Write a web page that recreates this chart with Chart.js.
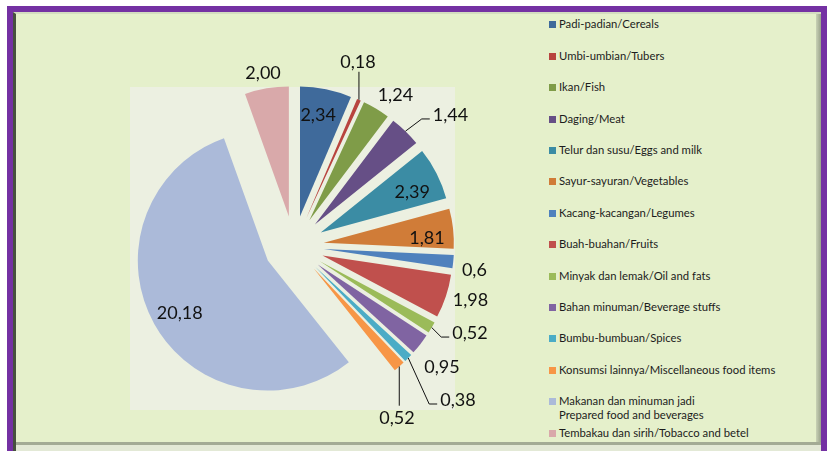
<!DOCTYPE html>
<html>
<head>
<meta charset="utf-8">
<title>Pengeluaran makanan</title>
<script src="https://cdn.jsdelivr.net/npm/chart.js@4.4.0/dist/chart.umd.min.js"></script>
<style>
    html, body {
        margin: 0;
        padding: 0;
        width: 827px;
        height: 451px;
        overflow: hidden;
        background: #ffffff;
        font-family: Lato, "Open Sans", sans-serif;
    }
    #frame {
        position: absolute;
        left: 7px;
        top: 6px;
        width: 820px;
        height: 460px;
        background: #7431a3;
    }
    #panel {
        position: absolute;
        left: 13px;
        top: 12px;
        width: 808px;
        height: 440px;
        background: #e5f0cb;
        border-top: 2px solid #d3dcc0;
        border-left: 3px solid #47513f;
        box-sizing: border-box;
    }
    #panel-right {
        position: absolute;
        left: 816px;
        top: 14px;
        width: 5px;
        height: 432px;
        background: linear-gradient(to right, #c9d2b6, #98a18a);
    }
    #panel-bottom {
        position: absolute;
        left: 16px;
        top: 442px;
        width: 805px;
        height: 3px;
        background: #a3ab95;
    }
    #panel-foot {
        position: absolute;
        left: 16px;
        top: 445px;
        width: 805px;
        height: 6px;
        background: #e3e9d6;
    }
    #plot-area {
        position: absolute;
        left: 130px;
        top: 87px;
        width: 325px;
        height: 323px;
        background: #ecf0e1;
    }
    #chart-box {
        position: absolute;
        left: 94px;
        top: 46px;
        width: 400px;
        height: 400px;
    }
    #legend {
        position: absolute;
        left: 549px;
        top: 0;
        width: 265px;
        height: 451px;
    }
    .legend-item {
        position: absolute;
        left: 0;
        font-size: 11.3px;
        line-height: 14px;
        color: #1c1c1c;
        white-space: nowrap;
    }
    .legend-swatch {
        position: absolute;
        left: 0;
        top: 4px;
        width: 7px;
        height: 7px;
    }
    .legend-text {
        margin-left: 10px;
    }
</style>
</head>
<body>
<div id="frame"></div>
<div id="panel"></div>
<div id="panel-right"></div>
<div id="panel-bottom"></div>
<div id="panel-foot"></div>
<div id="plot-area"></div>
<div id="chart-box"><canvas id="pie-chart"></canvas></div>
<div id="legend"></div>

<script>
// --- Data ---
const categories = [
    "Padi-padian/Cereals",
    "Umbi-umbian/Tubers",
    "Ikan/Fish",
    "Daging/Meat",
    "Telur dan susu/Eggs and milk",
    "Sayur-sayuran/Vegetables",
    "Kacang-kacangan/Legumes",
    "Buah-buahan/Fruits",
    "Minyak dan lemak/Oil and fats",
    "Bahan minuman/Beverage stuffs",
    "Bumbu-bumbuan/Spices",
    "Konsumsi lainnya/Miscellaneous food  items",
    ["Makanan dan minuman jadi", "Prepared food and beverages"],
    "Tembakau dan sirih/Tobacco and betel"
];

// values as printed on the slices (comma decimals)
const valueText = ["2,34", "0,18", "1,24", "1,44", "2,39", "1,81", "0,6", "1,98", "0,52", "0,95", "0,38", "0,52", "20,18", "2,00"];
const values = valueText.map(s => parseFloat(s.replace(",", ".")));

const sliceColors = [
    "#3f6a9b", "#b8443f", "#7f9c48", "#664f86", "#3b8ca4", "#d07c38", "#4f81bd",
    "#c0504d", "#9bbb59", "#8064a2", "#4bacc6", "#f79646", "#abbad9", "#d9a9aa"
];

// --- Label layout (distance as a multiple of the radius, angle shift in degrees) ---
const labelPlacement = [
    { dist: 1.025, shift: -1.1 },
    { dist: 1.50, shift: -4.8, leader: "below" },
    { dist: 1.40, shift: 2.9 },
    { dist: 1.57, shift: 5.9, leader: "left" },
    { dist: 1.00, shift: 2.4 },
    { dist: 1.025, shift: 2.9 },
    { dist: 1.40, shift: 2.0 },
    { dist: 1.42, shift: -1.2 },
    { dist: 1.51, shift: -4.3, leader: "left" },
    { dist: 1.47, shift: 1.4 },
    { dist: 1.73, shift: -1.2, leader: "left" },
    { dist: 1.54, shift: 10.2, leader: "above" },
    { dist: 1.02, shift: -1.3 },
    { dist: 1.35, shift: -0.3 }
];

const PIE_RADIUS = 130;
const EXPLODE = 30;

// --- Legend ---
const legendEl = document.getElementById("legend");
categories.forEach((name, i) => {
    const item = document.createElement("div");
    item.className = "legend-item";
    item.style.top = (17.4 + i * 31.4) + "px";
    const swatch = document.createElement("span");
    swatch.className = "legend-swatch";
    swatch.style.background = sliceColors[i];
    const text = document.createElement("div");
    text.className = "legend-text";
    text.innerHTML = Array.isArray(name) ? name.join("<br>") : name;
    item.appendChild(swatch);
    item.appendChild(text);
    legendEl.appendChild(item);
});

// Draws every slice pulled away from the centre along its mid angle
const explodePie = {
    id: "explodePie",
    beforeDatasetDraw(chart, args) {
        const ctx = chart.ctx;
        args.meta.data.forEach(arc => {
            const mid = (arc.startAngle + arc.endAngle) / 2;
            ctx.save();
            ctx.translate(Math.cos(mid) * EXPLODE, Math.sin(mid) * EXPLODE);
            arc.draw(ctx);
            ctx.restore();
        });
        return false;
    }
};

// Value labels with leader lines for the crowded ones
const sliceLabels = {
    id: "sliceLabels",
    afterDatasetsDraw(chart) {
        const ctx = chart.ctx;
        const meta = chart.getDatasetMeta(0);
        ctx.save();
        ctx.font = "18px Lato";
        ctx.fillStyle = "#111";
        ctx.strokeStyle = "#111";
        ctx.lineWidth = 1;
        ctx.textAlign = "center";
        ctx.textBaseline = "middle";
        meta.data.forEach((arc, i) => {
            const p = labelPlacement[i];
            const r = arc.outerRadius;
            const mid = (arc.startAngle + arc.endAngle) / 2;
            const a = mid + p.shift * Math.PI / 180;
            const lx = arc.x + Math.cos(a) * r * p.dist;
            const ly = arc.y + Math.sin(a) * r * p.dist;
            const text = valueText[i];

            if (p.leader) {
                const sx = arc.x + Math.cos(mid) * (r + EXPLODE);
                const sy = arc.y + Math.sin(mid) * (r + EXPLODE);
                const w = ctx.measureText(text).width;
                ctx.beginPath();
                ctx.moveTo(sx, sy);
                if (p.leader === "left") {
                    const tx = lx - w / 2 - 3;
                    const ty = ly + 4;
                    ctx.lineTo(tx - 8, ty);
                    ctx.lineTo(tx, ty);
                } else if (p.leader === "below") {
                    ctx.lineTo(sx, ly + 10);
                } else {
                    ctx.lineTo(sx, ly - 12);
                }
                ctx.stroke();
            }
            ctx.fillText(text, lx, ly);
        });
        ctx.restore();
    }
};

const chart = new Chart(document.getElementById("pie-chart"), {
    type: "pie",
    data: {
        labels: categories,
        datasets: [{
            data: values,
            backgroundColor: sliceColors,
            borderWidth: 0
        }]
    },
    options: {
        responsive: true,
        maintainAspectRatio: false,
        animation: false,
        radius: PIE_RADIUS,
        layout: { padding: 0 },
        plugins: {
            legend: { display: false },
            tooltip: { enabled: false }
        }
    },
    plugins: [explodePie, sliceLabels]
});
</script>
</body>
</html>
